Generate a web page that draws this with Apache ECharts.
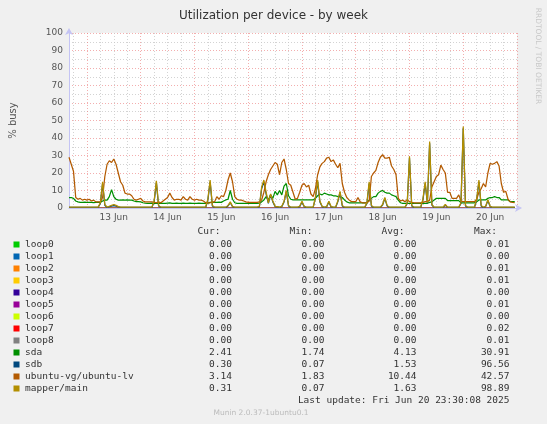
<!DOCTYPE html>
<html><head><meta charset="utf-8">
<script src="https://cdn.jsdelivr.net/npm/echarts@6/dist/echarts.min.js"></script>
<style>html,body{margin:0;padding:0;background:#F0F0F0}#c{width:547px;height:424px}</style>
</head><body><div id="c"></div><script>
// ---- data ----
const hoursStart = 16;   // first sample: 12 Jun 16:00, in hours since 12 Jun 00:00
const stepHours = 1;
const axisEndHour = 216; // 21 Jun 00:00
const dayLabels = ['13 Jun','14 Jun','15 Jun','16 Jun','17 Jun','18 Jun','19 Jun','20 Jun'];

const deviceNames = ['loop0','loop1','loop2','loop3','loop4','loop5','loop6','loop7','loop8','sda','sdb','ubuntu-vg/ubuntu-lv','mapper/main'];
const deviceColors = ['#00CC00','#0066B3','#FF8000','#FFCC00','#330099','#990099','#CCFF00','#FF0000','#808080','#008F00','#00487D','#B35A00','#B38F00'];
const curVals = [0,0,0,0,0,0,0,0,0,2.41,0.30,3.14,0.31];
const minVals = [0,0,0,0,0,0,0,0,0,1.74,0.07,1.83,0.07];
const avgVals = [0,0,0,0,0,0,0,0,0,4.13,1.53,10.44,1.63];
const maxVals = [0.01,0.00,0.01,0.01,0.00,0.01,0.00,0.02,0.01,30.91,96.56,42.57,98.89];

const loopValues = [0, 0]; // loops stay at 0 all week (first and last sample)

const sdaValues = [
 6,6,5.5,4,3.5,3.2,3.2,3.3,3.2,3.2,
 3.2,3.1,3.2,3.2,3.2,4,4.5,4.5,6.5,10.5,
 6.5,5,4.5,4.5,4.6,4.5,4.6,4.5,4.5,4,
 3.6,3.6,3.5,3,2.8,2.7,2.7,2.8,2.7,2.7,
 2.7,2.8,2.7,2.7,2.8,2.9,2.7,2.7,2.8,2.7,
 2.7,2.8,2.7,2.7,2.8,2.7,2.7,2.7,2.8,2.7,
 2.7,2.7,2.8,3.2,3.2,3.2,3.2,3.3,3.2,4,
 4.6,5,10,5,3,2.7,2.7,2.7,2.7,2.7,
 2.7,2.7,2.7,2.7,2.7,2.8,3.5,4.6,6.5,4.6,
 7.5,5.5,9.5,7.5,10,7.5,12.5,14,7,5,
 4.6,4.6,4.6,4.7,4.6,4.6,4.6,4.7,4.6,4.6,
 5.5,7,8,7.5,8.5,8,7.5,7.5,7,7,
 6.5,6.5,6,4.6,3.5,3,3,3,3,3,
 3,3,3,3,4.5,5.5,6.5,6.5,8.5,9.5,
 10,9,8.5,8.5,7.5,7,6.5,4.5,3,2.7,
 2.7,2.7,2.7,2.7,2.7,2.7,2.7,2.7,2.7,2.7,
 2.7,3.2,3.5,4.6,5.5,5.5,5.5,5.5,5.5,4.2,
 4.2,4.2,4.2,4.2,4.2,3,3,3,3,3,
 3,3,3.5,4.6,4.6,4.6,4.6,5.5,6,6,
 6.5,6,6,4.6,4.6,4.6,4.6,3.6,3.6,3.6
];

const sdbValues = [
 0.3,0.3,0.3,0.3,0.3,0.3,0.3,0.3,0.3,0.3,
 0.3,0.3,0.3,0.3,2.6,14,1.6,0.3,0.8,1.1,
 1.4,1.1,0.6,0.3,0.3,0.3,0.3,0.3,0.3,0.3,
 0.3,0.3,0.3,0.3,0.3,0.3,0.3,0.3,3.5,14.5,
 1.2,0.3,0.3,0.3,0.3,0.3,0.3,0.3,0.3,0.3,
 0.3,0.3,0.3,0.3,0.3,0.3,0.3,0.3,0.3,0.3,
 0.3,0.3,4.5,15,1.2,0.3,0.3,0.3,0.3,0.3,
 0.3,1.2,3,0.8,0.3,0.3,0.3,0.3,0.3,0.3,
 0.3,0.3,0.3,0.3,0.3,0.8,11,15,8,2.6,
 7.5,3.5,0.8,0.6,0.3,0.8,3.4,9.5,1.2,0.3,
 0.3,0.3,0.3,0.8,3.4,0.8,0.3,0.3,0.3,0.3,
 5.5,15,3.5,0.8,0.3,0.6,3.4,0.6,0.3,0.3,
 3.5,9,1.2,0.3,0.3,0.3,0.3,0.3,0.3,0.3,
 0.3,0.3,0.3,2.6,14,1.2,0.3,0.3,0.3,0.3,
 1.7,5.5,1.2,0.3,0.3,0.3,0.3,0.3,0.3,0.3,
 0.3,2.6,28.5,1.2,0.3,0.3,0.3,0.3,4.5,14,
 2.6,37,1.7,0.3,0.3,0.3,0.3,0.3,1.7,0.3,
 0.3,0.3,0.3,0.3,0.3,2.6,45.5,1.2,0.3,0.3,
 0.3,0.3,4.5,15,1.2,0.3,0.8,4.3,0.8,0.3,
 0.3,0.3,0.3,0.3,0.3,0.3,0.3,0.3,0.3,0.3
];

const ubuntuLvValues = [
 29,25,21,6,5,5.5,4.5,5,4.5,5,
 4,4.5,3.5,3.5,3.5,6,18,25,27,26,
 28,25,20,15,13,8.5,8,8,7,5,
 4.5,5,5.5,4,3.5,3.5,3.5,3.5,3.2,3,
 3.5,3,4,5,6,8.5,6,4.5,5,5,
 4.5,6.5,5,4.5,6.5,5,4.5,5,4.5,4.5,
 4,3,3,3,3.5,3.5,6.5,5,7,6.5,
 10,16,20,15,6.5,5,4.5,4.5,4,3.5,
 3.2,3.2,3.2,3.2,3.2,3.5,4.5,9,15,19,
 22,24,26,25,19,26,28,22,14,13,
 9,5,5.5,9,13,14,12,13,8,6.5,
 11,19,23.5,25.5,26.5,28.5,29,26.5,27.5,25,
 23,25.5,14,9,6,4.6,3.8,3.6,3.6,6,
 3.5,3,3,3,4,18,20,21.5,26,29,
 30.5,28.5,28.5,29,24,22,19,5.5,4,4.5,
 3.6,4.8,3.6,3.2,3,3,3,3,3.2,3.6,
 3.6,4.5,12,15,18,19,24.5,22,20,9,
 9,5.5,5.5,5.5,7.5,4,3.6,3.6,3.6,3.6,
 3.6,3.6,5,9,11,14,12,20,25.5,25,
 25.5,26.5,24,14,9,9.5,5,3.5,3.2,3
];

const mapperMainValues = [
 0.5,0.5,0.5,0.5,0.5,0.5,0.5,0.5,0.5,0.5,
 0.5,0.5,0.5,0.5,3,15,2,0.5,1,1.5,
 2,1.5,0.8,0.5,0.5,0.5,0.5,0.5,0.5,0.5,
 0.5,0.5,0.5,0.5,0.5,0.5,0.5,0.5,4,15.5,
 1.5,0.5,0.5,0.5,0.5,0.5,0.5,0.5,0.5,0.5,
 0.5,0.5,0.5,0.5,0.5,0.5,0.5,0.5,0.5,0.5,
 0.5,0.5,5,16,1.5,0.5,0.5,0.5,0.5,0.5,
 0.5,1.5,3.5,1,0.5,0.5,0.5,0.5,0.5,0.5,
 0.5,0.5,0.5,0.5,0.5,1,12,16,9,3,
 8,4,1,0.8,0.5,1,3.8,10,1.5,0.5,
 0.5,0.5,0.5,1,3.8,1,0.5,0.5,0.5,0.5,
 6,16,4,1,0.5,0.8,3.8,0.8,0.5,0.5,
 4,9.5,1.5,0.5,0.5,0.5,0.5,0.5,0.5,0.5,
 0.5,0.5,0.5,3,15,1.5,0.5,0.5,0.5,0.5,
 2,6,1.5,0.5,0.5,0.5,0.5,0.5,0.5,0.5,
 0.5,3,29.5,1.5,0.5,0.5,0.5,0.5,5,15,
 3,38,2,0.5,0.5,0.5,0.5,0.5,2,0.5,
 0.5,0.5,0.5,0.5,0.5,3,46.5,1.5,0.5,0.5,
 0.5,0.5,5,16,1.5,0.5,1,4.8,1,0.5,
 0.5,0.5,0.5,0.5,0.5,0.5,0.5,0.5,0.5,0.5
];

// ---- helpers ----
function toPoints(arr){ return arr.map((v,i)=>[hoursStart + i*stepHours, v]); }
const loopPoints = [[hoursStart, loopValues[0]], [hoursStart + (ubuntuLvValues.length-1)*stepHours, loopValues[1]]];
const seriesValues = {
  'sda': sdaValues, 'sdb': sdbValues,
  'ubuntu-vg/ubuntu-lv': ubuntuLvValues, 'mapper/main': mapperMainValues
};

const majorGrid = 'rgba(235,120,120,0.6)';
const minorGrid = 'rgba(200,200,200,0.8)';
const vLines = [];
for (let h = 18; h <= axisEndHour; h += 6) {
  vLines.push({ xAxis: h, lineStyle: { color: h % 24 === 0 ? majorGrid : minorGrid, type: [1,2], width: 1 } });
}
const noonHours = dayLabels.map((d,k)=>36 + 24*k);

const series = deviceNames.map((name, i) => {
  const s = {
    name: name, type: 'line', showSymbol: false, symbol: 'none',
    lineStyle: { width: 1.25, color: deviceColors[i] }, itemStyle: { color: deviceColors[i] },
    data: seriesValues[name] ? toPoints(seriesValues[name]) : loopPoints,
    z: 2 + i * 0.01
  };
  if (i === 0) {
    s.markLine = { silent: true, symbol: 'none', z: 1, animation: false, label: { show: false }, data: vLines };
  }
  return s;
});

// ---- legend table as text ----
const mono = 'DejaVu Sans Mono';
const fs = 9.5;
const txtColor = '#333';
const graphics = [];
const colRight = [232, 324.5, 416.5, 509.5];
const headRight = [220.5, 312.5, 404.5, 497];
['Cur:','Min:','Avg:','Max:'].forEach((h, k) => {
  graphics.push({ type:'text', x: headRight[k], y: 232, style:{ text:h, fill:txtColor, font: fs+'px "'+mono+'"', align:'right', verticalAlign:'middle' } });
});
deviceNames.forEach((name, i) => {
  const y = 244.5 + 12 * i;
  graphics.push({ type:'rect', shape:{ x:13.5, y:y-3, width:6, height:6 }, style:{ fill: deviceColors[i] } });
  graphics.push({ type:'text', x:25, y:y, style:{ text:name, fill:txtColor, font: fs+'px "'+mono+'"', align:'left', verticalAlign:'middle' } });
  [curVals, minVals, avgVals, maxVals].forEach((arr, k) => {
    graphics.push({ type:'text', x: colRight[k], y: y, style:{ text: arr[i].toFixed(2), fill:txtColor, font: fs+'px "'+mono+'"', align:'right', verticalAlign:'middle' } });
  });
});
graphics.push({ type:'text', x:509.5, y:401, style:{ text:'Last update: Fri Jun 20 23:30:08 2025', fill:txtColor, font: fs+'px "'+mono+'"', align:'right', verticalAlign:'middle' } });
graphics.push({ type:'text', x:261, y:413.5, style:{ text:'Munin 2.0.37-1ubuntu0.1', fill:'#BBBBBB', font: '7.5px "DejaVu Sans"', align:'center', verticalAlign:'middle' } });
graphics.push({ type:'text', x:538, y:56, rotation: -Math.PI/2, style:{ text:'RRDTOOL / TOBI OETIKER', fill:'#C8C8C8', font: '7.5px "DejaVu Sans"', align:'center', verticalAlign:'middle' } });

const chart = echarts.init(document.getElementById('c'), null, { renderer: 'canvas' });
chart.setOption({
  animation: false,
  backgroundColor: '#F0F0F0',
  textStyle: { fontFamily: 'DejaVu Sans' },
  title: { text: 'Utilization per device - by week', left: 'center', top: 5,
    textStyle: { fontSize: 12, fontWeight: 'normal', color: '#333', fontFamily: 'DejaVu Sans' } },
  grid: { left: 67, right: 30, top: 33, bottom: 216, show: true, backgroundColor: '#FFFFFF', borderWidth: 0 },
  xAxis: {
    type: 'value', min: hoursStart, max: axisEndHour, z: 10,
    axisLine: { show: true, lineStyle: { color: '#C4C4F4', width: 1 }, symbol: ['none','arrow'], symbolSize: [6, 7], symbolOffset: [0, 5] },
    axisTick: { show: false },
    splitLine: { show: false },
    axisLabel: { customValues: noonHours, margin: 5, fontSize: 9, color: '#555', fontFamily: 'DejaVu Sans',
      formatter: v => dayLabels[Math.round((v - 36) / 24)] }
  },
  yAxis: {
    type: 'value', min: 0, max: 100, interval: 10,
    name: '% busy', nameLocation: 'middle', nameGap: 51,
    nameTextStyle: { fontSize: 10, color: '#555', fontFamily: 'DejaVu Sans' },
    axisLine: { show: true, lineStyle: { color: '#C4C4F4', width: 1 }, symbol: ['none','arrow'], symbolSize: [6, 7], symbolOffset: [0, 5] },
    axisTick: { show: false },
    axisLabel: { margin: 6, fontSize: 9, color: '#555', fontFamily: 'DejaVu Sans' },
    splitLine: { show: true, lineStyle: { color: majorGrid, type: [1,2], width: 1 } },
    minorTick: { show: false, splitNumber: 2 },
    minorSplitLine: { show: true, lineStyle: { color: minorGrid, type: [1,2], width: 1 } }
  },
  series: series,
  graphic: graphics
});
</script></body></html>
